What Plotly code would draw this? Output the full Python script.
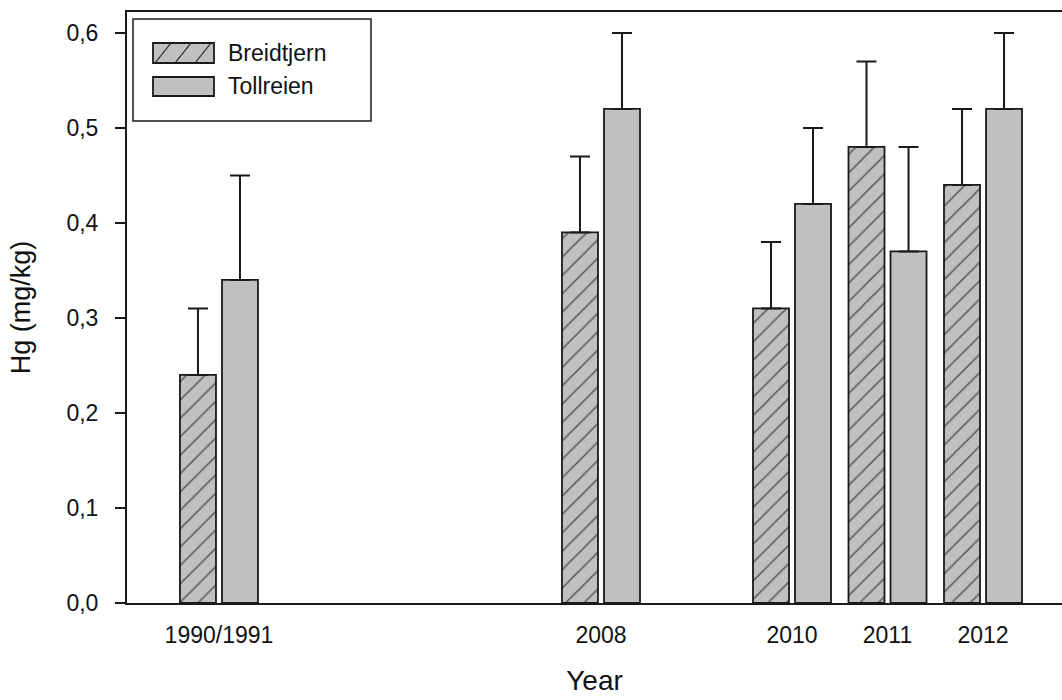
import plotly.graph_objects as go

# ---- data ----
years = ["1990/1991", "2008", "2010", "2011", "2012"]
breidtjern = [0.24, 0.39, 0.31, 0.48, 0.44]
breidtjern_err = [0.07, 0.08, 0.07, 0.09, 0.08]
tollreien = [0.34, 0.52, 0.42, 0.37, 0.52]
tollreien_err = [0.11, 0.08, 0.08, 0.11, 0.08]
y_ticks = [0.0, 0.1, 0.2, 0.3, 0.4, 0.5, 0.6]

# layout: slot of each year group along the (non-proportional) x axis
GROUP_SLOTS = [0, 4, 6, 7, 8]

W, H = 1062, 700
ML, MR, MT, MB = 127, 0, 12, 97
PW, PH = W - ML - MR, H - MT - MB

FILL = "#c0c0c0"
EDGE = "#1a1a1a"
FONT = "Liberation Sans, Arial, sans-serif"


def px(x):
    return (x - ML) / PW


def py(y):
    return (H - MB - y) / PH


fig = go.Figure()
fig.add_trace(go.Bar(
    x=GROUP_SLOTS, y=breidtjern, name="Breidtjern",
    marker=dict(color=FILL, line=dict(color=EDGE, width=1.8),
                pattern=dict(shape="/", size=13, solidity=0.12,
                             fgcolor="#000000", bgcolor=FILL)),
    error_y=dict(type="data", symmetric=False, array=breidtjern_err,
                 arrayminus=[0] * len(breidtjern), width=10, thickness=2,
                 color=EDGE),
    showlegend=False,
))
fig.add_trace(go.Bar(
    x=GROUP_SLOTS, y=tollreien, name="Tollreien",
    marker=dict(color=FILL, line=dict(color=EDGE, width=1.8)),
    error_y=dict(type="data", symmetric=False, array=tollreien_err,
                 arrayminus=[0] * len(tollreien), width=10, thickness=2,
                 color=EDGE),
    showlegend=False,
))

# ---- hand-drawn legend (wide swatches as in the original) ----
shapes = []
annotations = []
shapes.append(dict(type="rect", xref="paper", yref="paper",
                   x0=px(133), x1=px(371), y0=py(121), y1=py(19),
                   line=dict(color=EDGE, width=1.5), fillcolor="white"))
sw = [(43, 63), (77, 96)]
for (t, b) in sw:
    shapes.append(dict(type="rect", xref="paper", yref="paper",
                       x0=px(153), x1=px(214), y0=py(b), y1=py(t),
                       line=dict(color=EDGE, width=1.8), fillcolor=FILL))
# hatch lines in first swatch
t, b = sw[0]
sx0, sx1 = 153, 214
for start in range(135, 220, 20):
    xa, ya = start, b
    xb, yb = start + 16, t
    if xb <= sx0 or xa >= sx1:
        continue

    def yat(x):
        return ya + (yb - ya) * (x - xa) / (xb - xa)
    cxa, cya = (xa, ya) if xa >= sx0 else (sx0, yat(sx0))
    cxb, cyb = (xb, yb) if xb <= sx1 else (sx1, yat(sx1))
    shapes.append(dict(type="line", xref="paper", yref="paper",
                       x0=px(cxa), y0=py(cya), x1=px(cxb), y1=py(cyb),
                       line=dict(color=EDGE, width=1.2)))
for label, (t, b) in zip(["Breidtjern", "Tollreien"], sw):
    annotations.append(dict(xref="paper", yref="paper", x=px(226),
                            y=py((t + b) / 2), text=label, showarrow=False,
                            xanchor="left", yanchor="middle",
                            font=dict(family=FONT, size=23, color="#111")))

fig.update_layout(
    width=W, height=H,
    margin=dict(l=ML, r=MR, t=MT, b=MB, pad=0),
    plot_bgcolor="white", paper_bgcolor="white",
    barmode="group", bargap=0.12, bargroupgap=0.143,
    separators=",.",
    font=dict(family=FONT, size=23, color="#111"),
    shapes=shapes, annotations=annotations,
    xaxis=dict(
        range=[-0.963, 8.827], tickmode="array", tickvals=GROUP_SLOTS,
        ticktext=years, ticks="", showgrid=False, zeroline=False,
        showline=True, linecolor=EDGE, linewidth=2, mirror=True,
        ticklabelstandoff=10,
        title=dict(text="Year", font=dict(size=28), standoff=24),
    ),
    yaxis=dict(
        range=[0, 0.622], tickmode="array", tickvals=y_ticks,
        tickformat=".1f", ticks="outside", ticklen=10, tickwidth=1.5,
        tickcolor=EDGE, showgrid=False, zeroline=False,
        showline=True, linecolor=EDGE, linewidth=2, mirror=False,
        ticklabelstandoff=12,
        title=dict(text="Hg (mg/kg)", font=dict(size=27), standoff=28),
    ),
)

fig.write_html("out.html")
